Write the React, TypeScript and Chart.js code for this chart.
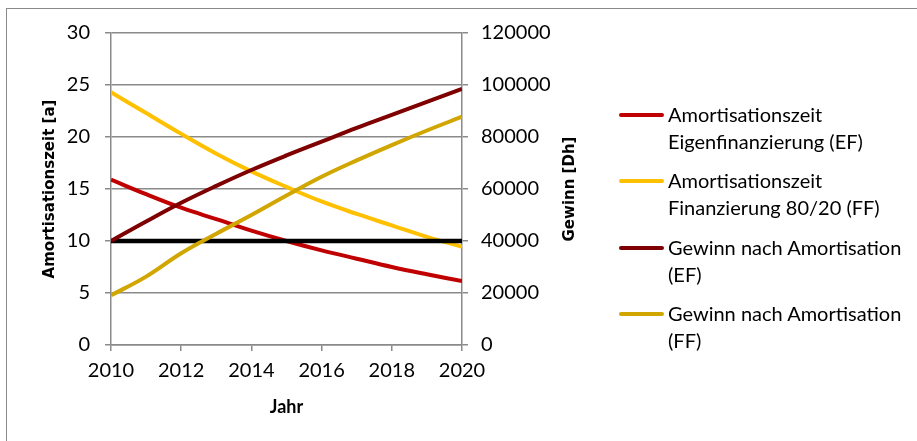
import { useEffect, useRef } from "react";
import { Chart, registerables } from "chart.js";

Chart.register(...registerables);

// Years on the x axis
const years = [2010, 2011, 2012, 2013, 2014, 2015, 2016, 2017, 2018, 2019, 2020];

// Payback period in years (left axis)
const amortisationEF = [15.9, 14.5, 13.2, 12.1, 11.0, 10.0, 9.1, 8.3, 7.5, 6.8, 6.15];
const amortisationFF = [24.3, 22.3, 20.3, 18.4, 16.7, 15.2, 13.8, 12.6, 11.5, 10.4, 9.45];

// Profit after payback in Dh (right axis)
const gewinnEF = [40000, 47500, 54700, 61200, 67300, 72900, 78200, 83500, 88500, 93500, 98500];
const gewinnFF = [19100, 26300, 35300, 42800, 50000, 57500, 64700, 71000, 76900, 82500, 87800];

// 10-year reference line (left axis)
const referenz = [10, 10, 10, 10, 10, 10, 10, 10, 10, 10, 10];

const seriesLabels: string[][] = [
  ["Amortisationszeit", "Eigenfinanzierung (EF)"],
  ["Amortisationszeit", "Finanzierung 80/20 (FF)"],
  ["Gewinn nach Amortisation", "(EF)"],
  ["Gewinn nach Amortisation", "(FF)"],
];
const seriesColors = ["#C00000", "#FFC000", "#7F0000", "#D1A600"];

const leftTitle = "Amortisationszeit [a]";
const rightTitle = "Gewinn [Dh]";
const xTitle = "Jahr";

const GRID = "#8a8a8a";
const TICK_FONT = { family: "Lato", size: 20 };
const TITLE_FONT = { family: "DejaVu Sans", size: 15, weight: "bold" as const };

const toPoints = (vals: number[]) => years.map((x, i) => ({ x, y: vals[i] }));

// Right axis title, reading bottom-to-top like the left one
const rightTitlePlugin = {
  id: "rightTitle",
  afterDraw(chart: any) {
    const { ctx, chartArea, scales } = chart;
    const s = scales.y1;
    ctx.save();
    ctx.translate(s.right - 22, (chartArea.top + chartArea.bottom) / 2);
    ctx.rotate(-Math.PI / 2);
    ctx.font = `bold ${TITLE_FONT.size}px "${TITLE_FONT.family}"`;
    ctx.fillStyle = "#000";
    ctx.textAlign = "center";
    ctx.textBaseline = "middle";
    ctx.fillText(rightTitle, 0, 0);
    ctx.restore();
  },
};

export default function App() {
  const ref = useRef<HTMLCanvasElement>(null);

  useEffect(() => {
    const line = (label: string[], color: string, vals: number[], axis: string, order: number) => ({
      label: label.join(" "),
      data: toPoints(vals),
      borderColor: color,
      backgroundColor: color,
      borderWidth: 4,
      pointRadius: 0,
      tension: 0.4,
      yAxisID: axis,
      order,
    });

    const chart = new Chart(ref.current!, {
      type: "line",
      data: {
        datasets: [
          line(seriesLabels[0], seriesColors[0], amortisationEF, "y", 5),
          line(seriesLabels[1], seriesColors[1], amortisationFF, "y", 4),
          { ...line(["Referenz"], "#000000", referenz, "y", 3), tension: 0, borderWidth: 4.5 },
          line(seriesLabels[2], seriesColors[2], gewinnEF, "y1", 2),
          line(seriesLabels[3], seriesColors[3], gewinnFF, "y1", 1),
        ],
      },
      options: {
        animation: false,
        responsive: false,
        devicePixelRatio: 1,
        layout: { padding: { left: 0, top: 33, right: 325, bottom: 0 } },
        plugins: { legend: { display: false }, tooltip: { enabled: false } },
        scales: {
          x: {
            type: "linear",
            position: "bottom",
            min: 2010,
            max: 2020,
            ticks: {
              stepSize: 2,
              color: "#000",
              font: TICK_FONT,
              padding: 8,
              maxRotation: 0,
              callback: (v: any) => String(v),
            },
            grid: { drawOnChartArea: false, drawTicks: true, tickLength: 6, color: GRID, lineWidth: 1.5 },
            border: { color: GRID, width: 1.5 },
            title: {
              display: true,
              text: xTitle,
              color: "#000",
              font: { family: "Lato", size: 18, weight: "bold" },
              padding: { top: 0, bottom: 23 },
            },
            afterFit: (s: any) => {
              s.height = 96;
            },
          },
          y: {
            type: "linear",
            position: "left",
            min: 0,
            max: 30,
            ticks: { stepSize: 5, color: "#000", font: TICK_FONT, padding: 15 },
            grid: { color: GRID, lineWidth: 1.5, tickLength: 6 },
            border: { color: GRID, width: 1.5 },
            title: {
              display: true,
              text: leftTitle,
              color: "#000",
              font: TITLE_FONT,
              padding: { top: 41, bottom: 0 },
            },
            afterFit: (s: any) => {
              s.width = 111;
            },
          },
          y1: {
            type: "linear",
            position: "right",
            min: 0,
            max: 120000,
            ticks: {
              stepSize: 20000,
              color: "#000",
              font: TICK_FONT,
              padding: 13,
              callback: (v: any) => String(v),
            },
            grid: { drawOnChartArea: false, color: GRID, lineWidth: 1.5, tickLength: 6 },
            border: { color: GRID, width: 1.5 },
            title: { display: false },
            afterFit: (s: any) => {
              s.width = 130;
            },
          },
        },
      },
      plugins: [rightTitlePlugin],
    } as any);

    return () => chart.destroy();
  }, []);

  const legendTops = [101, 167, 234, 300];

  return (
    <div
      style={{
        position: "absolute",
        left: 0,
        top: 0,
        width: 917,
        height: 441,
        overflow: "hidden",
        background: "#fff",
      }}
    >
      <div
        style={{
          position: "absolute",
          left: 6,
          top: 8,
          width: 1000,
          height: 1000,
          borderLeft: "1.5px solid #8a8a8a",
          borderTop: "1.5px solid #8a8a8a",
        }}
      />
      <canvas ref={ref} width={917} height={441} style={{ position: "absolute", left: 0, top: 0 }} />
      {seriesLabels.map((lines, i) => (
        <div
          key={i}
          style={{
            position: "absolute",
            left: 619,
            top: legendTops[i],
            display: "flex",
            alignItems: "flex-start",
            fontFamily: "Lato",
            fontSize: 20,
            lineHeight: "27px",
            color: "#000",
            whiteSpace: "nowrap",
          }}
        >
          <div style={{ width: 45, height: 27, position: "relative", flex: "none" }}>
            <div
              style={{
                position: "absolute",
                left: 0,
                right: 0,
                top: 12,
                height: 4,
                borderRadius: 2,
                background: seriesColors[i],
              }}
            />
          </div>
          <div style={{ marginLeft: 4 }}>
            {lines.map((t, j) => (
              <div key={j}>{t}</div>
            ))}
          </div>
        </div>
      ))}
    </div>
  );
}
